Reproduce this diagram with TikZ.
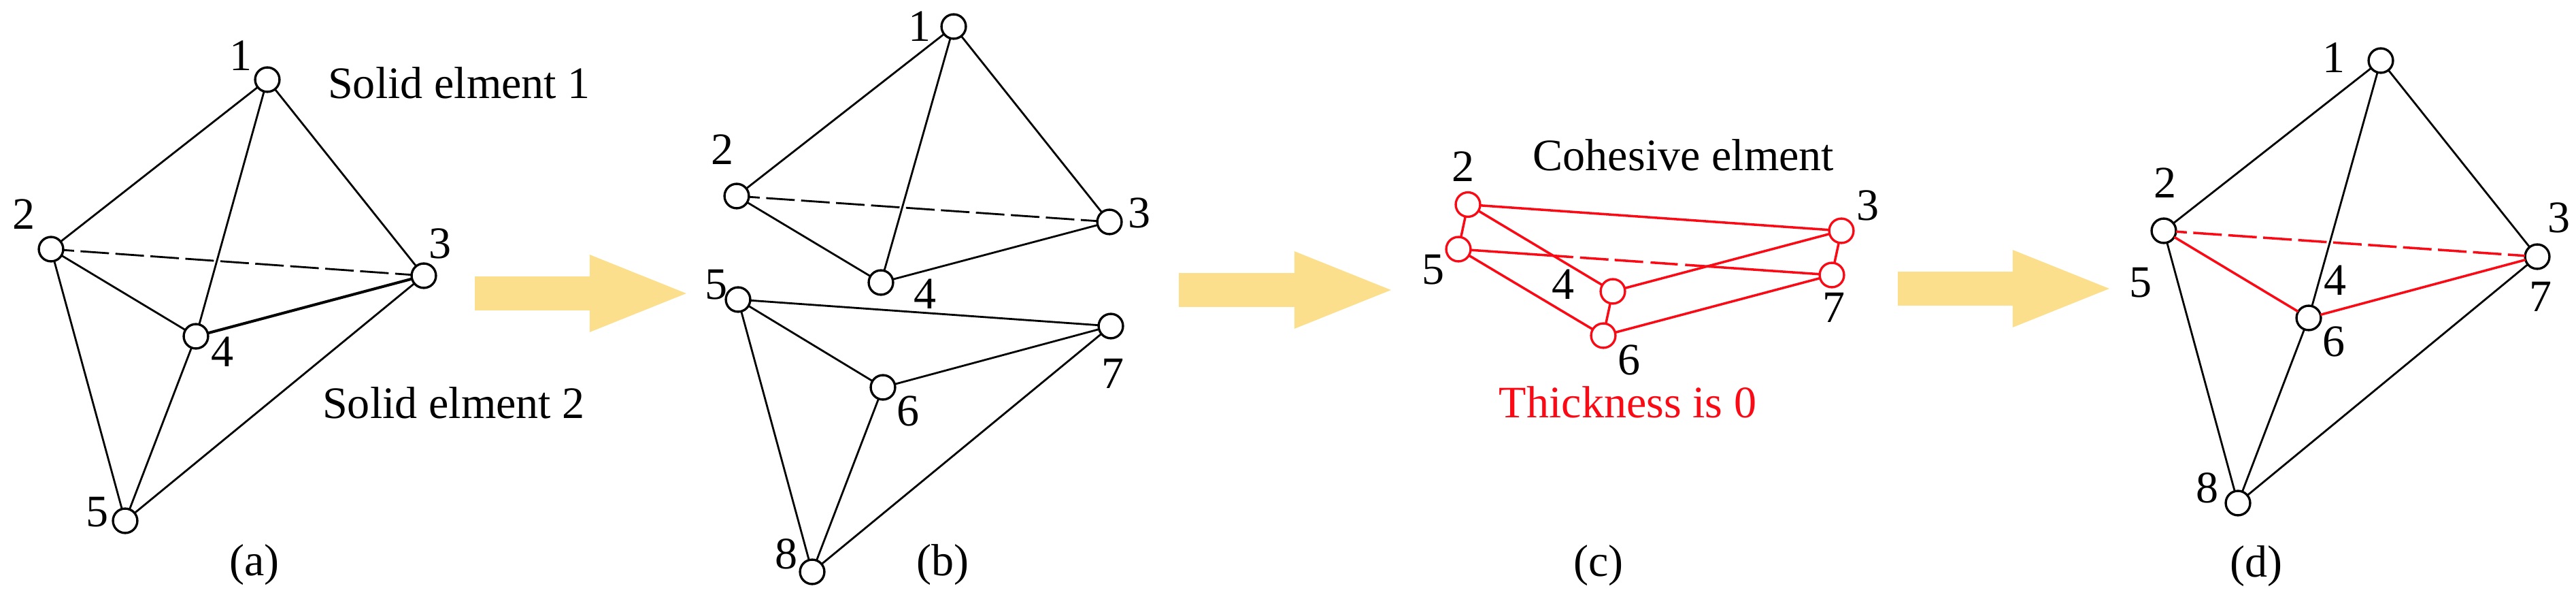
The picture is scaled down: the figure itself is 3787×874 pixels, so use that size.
\documentclass[tikz,border=0pt]{standalone}
\usepackage{fontspec}
\setmainfont{Liberation Serif}
\usetikzlibrary{arrows.meta}
\definecolor{arrowyellow}{HTML}{FBDF8C}
\definecolor{cohred}{HTML}{FA0A14}
\tikzset{
  vertex/.style={circle,draw=black,fill=white,line width=0.95pt,minimum size=10.2pt,inner sep=0pt,outer sep=0pt},
  redvertex/.style={vertex,draw=cohred},
  edge/.style={draw=black,line width=0.8pt},
  redge/.style={draw=cohred,line width=1pt},
  hidden/.style={dash pattern=on 11.95pt off 2.7pt,dash phase=7.4pt},
  lbl/.style={inner sep=0pt,font=\fontsize{18.8}{21}\selectfont,text=black},
  redlbl/.style={lbl,text=cohred},
  bigarrow/.style={draw=arrowyellow,line width=14pt,line cap=butt,-{Triangle[width=28.6pt,length=43pt,fill=arrowyellow]}},
}
\begin{document}
\begin{tikzpicture}[x=0.01cm,y=-0.01cm]
\useasboundingbox (0,0) rectangle (3787,874);
% arrows
\coordinate (arrAs) at (698,431); \coordinate (arrAe) at (1018,431);
\coordinate (arrBs) at (1733,426); \coordinate (arrBe) at (2054,426);
\coordinate (arrCs) at (2790,424); \coordinate (arrCe) at (3110,424);
\draw[bigarrow] (arrAs) -- (arrAe);
\draw[bigarrow] (arrBs) -- (arrBe);
\draw[bigarrow] (arrCs) -- (arrCe);
% panel a
\node[vertex] (a1) at (393,117) {};
\node[vertex] (a2) at (75,366) {};
\node[vertex] (a3) at (623,405) {};
\node[vertex] (a4) at (288,494) {};
\node[vertex] (a5) at (184,765) {};
\draw[edge] (a1)--(a2) (a1)--(a3) (a1)--(a4) (a2)--(a4) (a2)--(a5) (a4)--(a5) (a3)--(a5);
\draw[edge,line width=1.15pt] (a3)--(a4);
\draw[edge,hidden] (a2)--(a3);
\node[lbl] (a1t) at (354,82) {1};
\node[lbl] (a2t) at (35,315) {2};
\node[lbl] (a3t) at (647,358) {3};
\node[lbl] (a4t) at (327,517) {4};
\node[lbl] (a5t) at (143,752) {5};
\node[lbl] (aS1) at (675,122) {Solid elment 1};
\node[lbl] (aS2) at (667,592) {Solid elment 2};
\node[lbl] (acap) at (374,830) {(a)};
% panel b
\node[vertex] (b1) at (1402,39) {};
\node[vertex] (b2) at (1083,288) {};
\node[vertex] (b3) at (1631,326) {};
\node[vertex] (b4) at (1295,415) {};
\node[vertex] (b5) at (1085,440) {};
\node[vertex] (b6) at (1298,569) {};
\node[vertex] (b7) at (1633,479) {};
\node[vertex] (b8) at (1194,840) {};
\draw[edge] (b1)--(b2) (b1)--(b3) (b1)--(b4) (b2)--(b4) (b3)--(b4);
\draw[edge,hidden] (b2)--(b3);
\draw[edge] (b5)--(b7) (b5)--(b6) (b6)--(b7) (b5)--(b8) (b6)--(b8) (b7)--(b8);
\node[lbl] (b1t) at (1352,39) {1};
\node[lbl] (b2t) at (1062,220) {2};
\node[lbl] (b3t) at (1675,313) {3};
\node[lbl] (b4t) at (1360,432) {4};
\node[lbl] (b5t) at (1053,418) {5};
\node[lbl] (b6t) at (1335,604) {6};
\node[lbl] (b7t) at (1636,549) {7};
\node[lbl] (b8t) at (1156,814) {8};
\node[lbl] (bcap) at (1386,830) {(b)};
% panel c
\node[redvertex] (c2) at (2158,300.5) {};
\node[redvertex] (c3) at (2707,339) {};
\node[redvertex] (c4) at (2371,428) {};
\node[redvertex] (c5) at (2144,366) {};
\node[redvertex] (c6) at (2357,493) {};
\node[redvertex] (c7) at (2693,404) {};
\draw[redge] (c2)--(c3) (c2)--(c4) (c4)--(c3) (c2)--(c5) (c3)--(c7) (c4)--(c6) (c5)--(c6) (c6)--(c7);
\draw[redge,dash pattern=on 43pt off 2.85pt on 11.95pt off 2.56pt on 11.95pt off 3.1pt on 11.4pt off 3.1pt on 200pt off 1pt] (c5)--(c7);
\node[lbl] (c2t) at (2151,245) {2};
\node[lbl] (c3t) at (2746,302) {3};
\node[lbl] (c4t) at (2298,418) {4};
\node[lbl] (c5t) at (2107,396) {5};
\node[lbl] (c6t) at (2395,529) {6};
\node[lbl] (c7t) at (2696,452) {7};
\node[lbl] (cC) at (2475,228) {Cohesive elment};
\node[redlbl] (cT) at (2393,591) {Thickness is 0};
\node[lbl] (ccap) at (2350,831) {(c)};
% panel d
\node[vertex] (d1) at (3500,89) {};
\node[vertex] (d2) at (3181,339) {};
\node[vertex] (d3) at (3730,377) {};
\node[vertex] (d4) at (3394,467) {};
\node[vertex] (d8) at (3290,739) {};
\draw[edge] (d1)--(d2) (d1)--(d3) (d1)--(d4) (d2)--(d8) (d4)--(d8) (d3)--(d8);
\draw[redge] (d2)--(d4) (d3)--(d4);
\draw[redge,hidden] (d2)--(d3);
\node[lbl] (d1t) at (3431,85) {1};
\node[lbl] (d2t) at (3183,269) {2};
\node[lbl] (d3t) at (3762,320) {3};
\node[lbl] (d4t) at (3433,412) {4};
\node[lbl] (d5t) at (3147,415) {5};
\node[lbl] (d6t) at (3431,502) {6};
\node[lbl] (d7t) at (3735,436) {7};
\node[lbl] (d8t) at (3245,717) {8};
\node[lbl] (dcap) at (3317,832) {(d)};
\end{tikzpicture}
\end{document}
